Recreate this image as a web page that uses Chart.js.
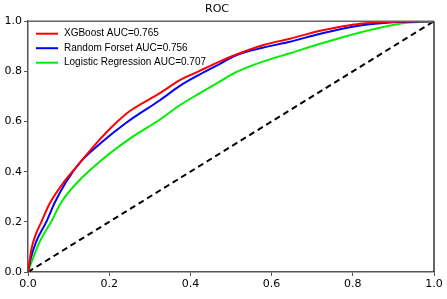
<!DOCTYPE html>
<html>
<head>
<meta charset="utf-8">
<script src="https://cdn.jsdelivr.net/npm/chart.js@4/dist/chart.umd.min.js"></script>
<style>
  html, body { margin: 0; padding: 0; background: #fff; }
  #wrap { width: 447px; height: 299px; }
</style>
</head>
<body>
<div id="wrap"><canvas id="roc" width="447" height="299"></canvas></div>
<script>
// ROC points (fpr, tpr)
const xgbFpr = [0, 0.004, 0.008, 0.018, 0.033, 0.054, 0.09, 0.13, 0.172, 0.217, 0.251, 0.325, 0.374, 0.42, 0.473, 0.51, 0.58, 0.645, 0.72, 0.818, 0.9, 1];
const xgbTpr = [0, 0.045, 0.088, 0.145, 0.2, 0.275, 0.362, 0.44, 0.52, 0.595, 0.642, 0.713, 0.765, 0.8, 0.84, 0.865, 0.905, 0.93, 0.962, 0.99, 0.998, 1];

const rfFpr = [0, 0.006, 0.02, 0.045, 0.066, 0.094, 0.13, 0.18, 0.242, 0.325, 0.374, 0.42, 0.473, 0.51, 0.58, 0.645, 0.72, 0.818, 0.9, 1];
const rfTpr = [0, 0.05, 0.12, 0.2, 0.277, 0.36, 0.44, 0.515, 0.595, 0.685, 0.742, 0.785, 0.83, 0.862, 0.895, 0.918, 0.95, 0.983, 0.996, 1];

const lrFpr = [0, 0.01, 0.03, 0.057, 0.082, 0.123, 0.18, 0.251, 0.325, 0.374, 0.42, 0.473, 0.51, 0.58, 0.645, 0.72, 0.818, 0.916, 1];
const lrTpr = [0, 0.045, 0.125, 0.2, 0.278, 0.36, 0.445, 0.532, 0.608, 0.665, 0.71, 0.76, 0.795, 0.84, 0.872, 0.91, 0.955, 0.99, 1];

const seriesNames = ['XGBoost AUC=0.765', 'Random Forset AUC=0.756', 'Logistic Regression AUC=0.707'];
const seriesColors = ['#ff0000', '#0000ff', '#00ee00'];
const tickValues = [0, 0.2, 0.4, 0.6, 0.8, 1.0];

function pts(xs, ys) {
  return xs.map((x, i) => ({ x: x, y: ys[i] }));
}

// frame round the plot area + legend inside it (top left)
const framePlugin = {
  id: 'frame',
  afterDraw(chart) {
    const a = chart.chartArea;
    const ctx = chart.ctx;
    ctx.save();
    ctx.strokeStyle = '#666';
    ctx.lineWidth = 1.5;
    ctx.beginPath();
    ctx.moveTo(a.left, a.top);
    ctx.lineTo(a.right, a.top);
    ctx.stroke();
    ctx.strokeStyle = '#333';
    ctx.beginPath();
    ctx.moveTo(a.right, a.top);
    ctx.lineTo(a.right, a.bottom);
    ctx.stroke();

    // legend
    ctx.font = '10px "Liberation Sans Narrow", "Liberation Sans", sans-serif';
    ctx.textBaseline = 'middle';
    ctx.fillStyle = '#000';
    seriesNames.forEach((name, i) => {
      const y = a.top + 12.5 + i * 14.5;
      ctx.strokeStyle = seriesColors[i];
      ctx.lineWidth = 2;
      ctx.beginPath();
      ctx.moveTo(a.left + 8, y);
      ctx.lineTo(a.left + 30, y);
      ctx.stroke();
      ctx.fillText(name, a.left + 36, y);
    });
    ctx.restore();
  }
};

const line = (label, data, color) => ({
  label, data,
  borderColor: color,
  backgroundColor: color,
  borderWidth: 2,
  pointRadius: 0,
  cubicInterpolationMode: 'monotone'
});

new Chart(document.getElementById('roc'), {
  type: 'line',
  data: {
    datasets: [
      line(seriesNames[0], pts(xgbFpr, xgbTpr), seriesColors[0]),
      line(seriesNames[1], pts(rfFpr, rfTpr), seriesColors[1]),
      line(seriesNames[2], pts(lrFpr, lrTpr), seriesColors[2]),
      {
        label: 'diag',
        data: [{ x: 0, y: 0 }, { x: 1, y: 1 }],
        borderColor: '#000',
        borderWidth: 2,
        borderDash: [6, 4],
        pointRadius: 0
      }
    ]
  },
  options: {
    responsive: false,
    animation: false,
    layout: { padding: { left: 0, right: 13, top: 0, bottom: 0 } },
    plugins: {
      title: {
        display: true,
        text: 'ROC',
        color: '#000',
        font: { family: 'DejaVu Sans', size: 11, weight: 'normal' },
        padding: { top: 3, bottom: 5 }
      },
      legend: { display: false },
      tooltip: { enabled: false }
    },
    scales: {
      x: {
        type: 'linear',
        min: 0, max: 1,
        afterFit: s => { s.height = 27; },
        afterBuildTicks: s => { s.ticks = tickValues.map(v => ({ value: v })); },
        ticks: {
          color: '#000',
          padding: 2,
          maxRotation: 0,
          font: { family: 'DejaVu Sans', size: 11 },
          callback: v => v.toFixed(1)
        },
        grid: { display: true, drawOnChartArea: false, drawTicks: true, tickLength: 4, color: '#555' },
        border: { color: '#555', width: 1.5 }
      },
      y: {
        type: 'linear',
        min: 0, max: 1,
        afterFit: s => { s.width = 28; },
        afterBuildTicks: s => { s.ticks = tickValues.map(v => ({ value: v })); },
        ticks: {
          color: '#000',
          padding: 2,
          font: { family: 'DejaVu Sans', size: 11 },
          callback: v => v.toFixed(1)
        },
        grid: { display: true, drawOnChartArea: false, drawTicks: true, tickLength: 4, color: '#555' },
        border: { color: '#555', width: 1.5 }
      }
    }
  },
  plugins: [framePlugin]
});
</script>
</body>
</html>
